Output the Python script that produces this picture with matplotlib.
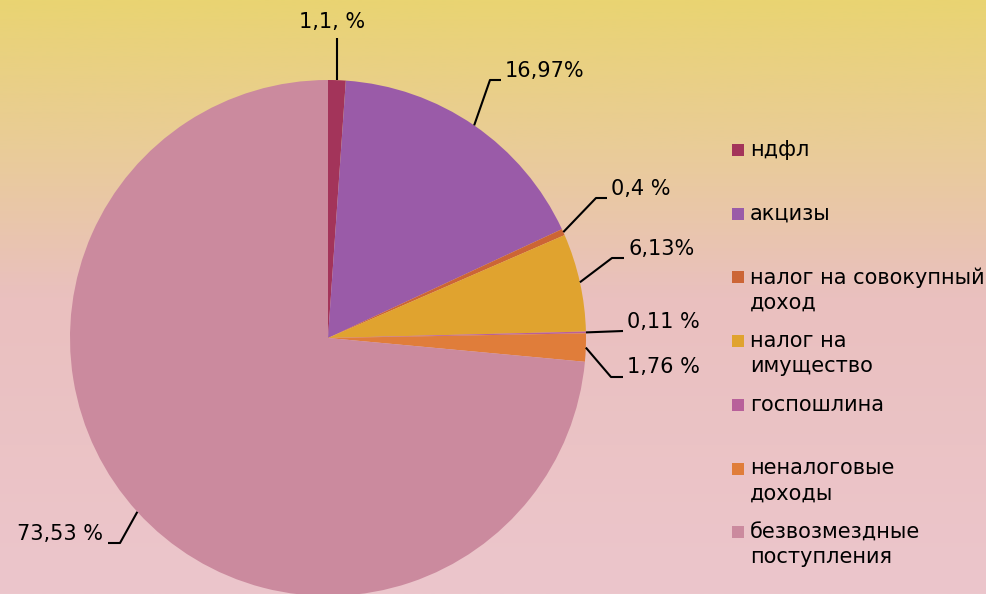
import numpy as np
import matplotlib
matplotlib.use("Agg")
import matplotlib.pyplot as plt
from matplotlib.colors import LinearSegmentedColormap
from matplotlib.patches import Rectangle

categories = ["ндфл", "акцизы", "налог на совокупный\nдоход", "налог на\nимущество",
              "госпошлина", "неналоговые\nдоходы", "безвозмездные\nпоступления"]
values = [1.1, 16.97, 0.4, 6.13, 0.11, 1.76, 73.53]
value_labels = ["1,1, %", "16,97%", "0,4 %", "6,13%", "0,11 %", "1,76 %", "73,53 %"]
colors = ["#A3345A", "#9A5BA8", "#CC6535", "#E0A32F", "#B8609A", "#E07D3A", "#CB8A9E"]

W, H = 986, 594
fig = plt.figure(figsize=(W / 100, H / 100), dpi=100)

# background gradient
bg = fig.add_axes([0, 0, 1, 1])
cmap = LinearSegmentedColormap.from_list(
    "bg", [(0.0, "#E9D472"), (0.25, "#E9CC98"), (0.5, "#EAC0BF"), (1.0, "#ECC6CC")])
grad = np.linspace(0, 1, 256).reshape(-1, 1)
bg.imshow(grad, aspect="auto", cmap=cmap, extent=[0, 1, 0, 1], origin="upper")
bg.set_axis_off()

# pie axes: center (328,338) px, radius 258 px
cx, cy, R = 328, 338, 258
ax = fig.add_axes([(cx - R) / W, (H - cy - R) / H, 2 * R / W, 2 * R / H])
wedges, _ = ax.pie(values, colors=colors, startangle=90, counterclock=False,
                   radius=1, wedgeprops=dict(linewidth=0))
ax.set_xlim(-1, 1)
ax.set_ylim(-1, 1)
ax.set_aspect("equal")
ax.set_axis_off()
for w in wedges:
    w.set_clip_on(False)

def px2d(px, py):
    return (px - cx) / R, (cy - py) / R

# leader layout per label (pixel coords): elbow point, end point, text anchor, ha
layout = [
    (None, (None, 38), (332, 22), "center"),
    ((490, 80), (501, 80), (505, 71), "left"),
    ((596, 198), (607, 198), (611, 189), "left"),
    ((612, 258), (624, 258), (628, 249), "left"),
    (None, (623, 331), (627, 322), "left"),
    ((611, 377), (623, 377), (627, 367), "left"),
    ((120, 543), (108, 543), (103, 534), "right"),
]

fs = 15
for w, lab, (elbow, end, tpos, ha) in zip(wedges, value_labels, layout):
    ang = np.deg2rad((w.theta1 + w.theta2) / 2)
    ax0, ay0 = np.cos(ang), np.sin(ang)
    pts = [(ax0, ay0)]
    if elbow is not None:
        pts.append(px2d(*elbow))
    ex, ey = end
    if ex is None:
        pts.append((ax0, px2d(0, ey)[1]))
    else:
        pts.append(px2d(ex, ey))
    xs, ys = zip(*pts)
    ax.plot(xs, ys, color="black", lw=1.5, clip_on=False, solid_capstyle="butt")
    tx, ty = px2d(*tpos)
    ax.text(tx, ty, lab, ha=ha, va="center", fontsize=fs, color="black",
            family="DejaVu Sans", clip_on=False)

# legend (manual, marker aligned with first line)
leg_x, leg_y0, step, sq = 732, 150, 63.7, 12
for i, (cat, col) in enumerate(zip(categories, colors)):
    y = leg_y0 + i * step
    fig.add_artist(Rectangle(((leg_x) / W, (H - y - sq / 2) / H), sq / W, sq / H,
                             transform=fig.transFigure, facecolor=col, edgecolor="none"))
    fig.text(750 / W, (H - y + 10) / H, cat, ha="left", va="top", fontsize=fs,
             color="black", linespacing=1.3, family="DejaVu Sans")

fig.savefig("out.png", dpi=100)
